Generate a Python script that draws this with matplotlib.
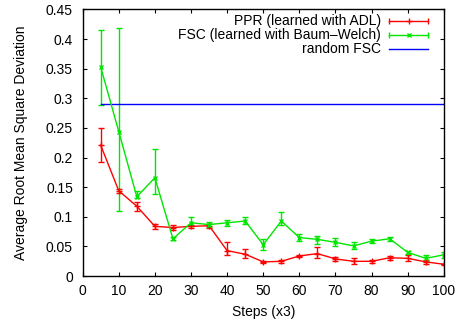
import matplotlib
matplotlib.use("Agg")
import matplotlib.pyplot as plt
import numpy as np

plt.rcParams['font.family'] = ['Liberation Sans', 'DejaVu Sans']

steps = [5, 10, 15, 20, 25, 30, 35, 40, 45, 50, 55, 60, 65, 70, 75, 80, 85, 90, 95, 100]
ppr = [0.221, 0.144, 0.118, 0.084, 0.082, 0.084, 0.085, 0.043, 0.037, 0.024,
       0.025, 0.034, 0.038, 0.029, 0.025, 0.025, 0.031, 0.030, 0.024, 0.020]
ppr_low = [0.192, 0.140, 0.110, 0.080, 0.078, 0.081, 0.082, 0.035, 0.030, 0.022,
           0.022, 0.032, 0.030, 0.025, 0.020, 0.022, 0.028, 0.025, 0.020, 0.018]
ppr_high = [0.250, 0.147, 0.125, 0.088, 0.086, 0.087, 0.088, 0.057, 0.045, 0.026,
            0.028, 0.036, 0.049, 0.033, 0.030, 0.028, 0.034, 0.035, 0.027, 0.021]
fsc = [0.353, 0.244, 0.134, 0.166, 0.063, 0.090, 0.087, 0.090, 0.093, 0.053,
       0.093, 0.065, 0.062, 0.057, 0.051, 0.059, 0.063, 0.040, 0.030, 0.036]
fsc_low = [0.288, 0.110, 0.131, 0.138, 0.061, 0.085, 0.083, 0.085, 0.088, 0.044,
           0.086, 0.060, 0.055, 0.050, 0.045, 0.056, 0.060, 0.038, 0.026, 0.031]
fsc_high = [0.416, 0.418, 0.144, 0.215, 0.066, 0.099, 0.092, 0.095, 0.100, 0.063,
            0.108, 0.071, 0.068, 0.064, 0.057, 0.062, 0.066, 0.042, 0.035, 0.041]
random_fsc = 0.291

labels = ["PPR (learned with ADL)", "FSC (learned with Baum\u2013Welch)", "random FSC"]
xticks = [0, 10, 20, 30, 40, 50, 60, 70, 80, 90, 100]
yticks = [0, 0.05, 0.1, 0.15, 0.2, 0.25, 0.3, 0.35, 0.4, 0.45]
yticklabels = ["0", "0.05", "0.1", "0.15", "0.2", "0.25", "0.3", "0.35", "0.4", "0.45"]

RED = "#ff0000"
GREEN = "#00e600"
BLUE = "#0000ff"
FS = 10

fig = plt.figure(figsize=(4.59, 3.26), dpi=100)
ax = fig.add_axes([0.180, 0.153, 0.787, 0.818])

ppr_a = np.array(ppr)
fsc_a = np.array(fsc)
ppr_err = [ppr_a - np.array(ppr_low), np.array(ppr_high) - ppr_a]
fsc_err = [fsc_a - np.array(fsc_low), np.array(fsc_high) - fsc_a]

ax.errorbar(steps, ppr, yerr=ppr_err, color=RED, lw=1.0, marker='+', ms=4,
            mew=1.0, capsize=2, elinewidth=1.0, capthick=1.0)
ax.errorbar(steps, fsc, yerr=fsc_err, color=GREEN, lw=1.0, marker='x', ms=3.5,
            mew=1.0, capsize=2, elinewidth=1.0, capthick=1.0)
ax.plot([steps[0], steps[-1]], [random_fsc, random_fsc], color=BLUE, lw=1.0)

ax.set_xlim(0, 100)
ax.set_ylim(0, 0.45)
ax.set_xticks(xticks)
ax.set_yticks(yticks)
ax.set_yticklabels(yticklabels)
ax.tick_params(direction='in', length=3, width=0.8, top=True, right=True,
               labelsize=FS)
ax.tick_params(axis='x', pad=6)
ax.tick_params(axis='y', pad=7)
for s in ax.spines.values():
    s.set_linewidth(1.0)
ax.set_xlabel("Steps (x3)", fontsize=FS, labelpad=5)
ax.set_ylabel("Average Root Mean Square Deviation", fontsize=FS, labelpad=13)

# gnuplot-style legend (top right)
W, H = 459.0, 326.0
x0, x1 = 0.180 * W, 0.967 * W
y_top, y_bot = 9.3, 276.0
def ax_x(px):
    return (px - x0) / (x1 - x0)
def ax_y(py):
    return (y_bot - py) / (y_bot - y_top)

rows = [20.7, 34.7, 49.3]
colors = [RED, GREEN, BLUE]
markers = ['+', 'x', None]
for lab, py, c, m in zip(labels, rows, colors, markers):
    ay = ax_y(py)
    ax.text(ax_x(381), ay, lab, transform=ax.transAxes, ha='right', va='center', fontsize=FS)
    ax.plot([ax_x(389), ax_x(428)], [ay, ay], transform=ax.transAxes, color=c, lw=1.0,
            clip_on=False)
    if m is not None:
        ax.plot([ax_x(389), ax_x(428)], [ay, ay], transform=ax.transAxes, color=c,
                lw=0, marker='|', ms=4, mew=1.0, clip_on=False)
        ax.plot([ax_x(408.5)], [ay], transform=ax.transAxes, color=c, lw=0, marker=m,
                ms=4 if m == '+' else 3.5, mew=1.0, clip_on=False)

fig.savefig("out.png", dpi=100)
